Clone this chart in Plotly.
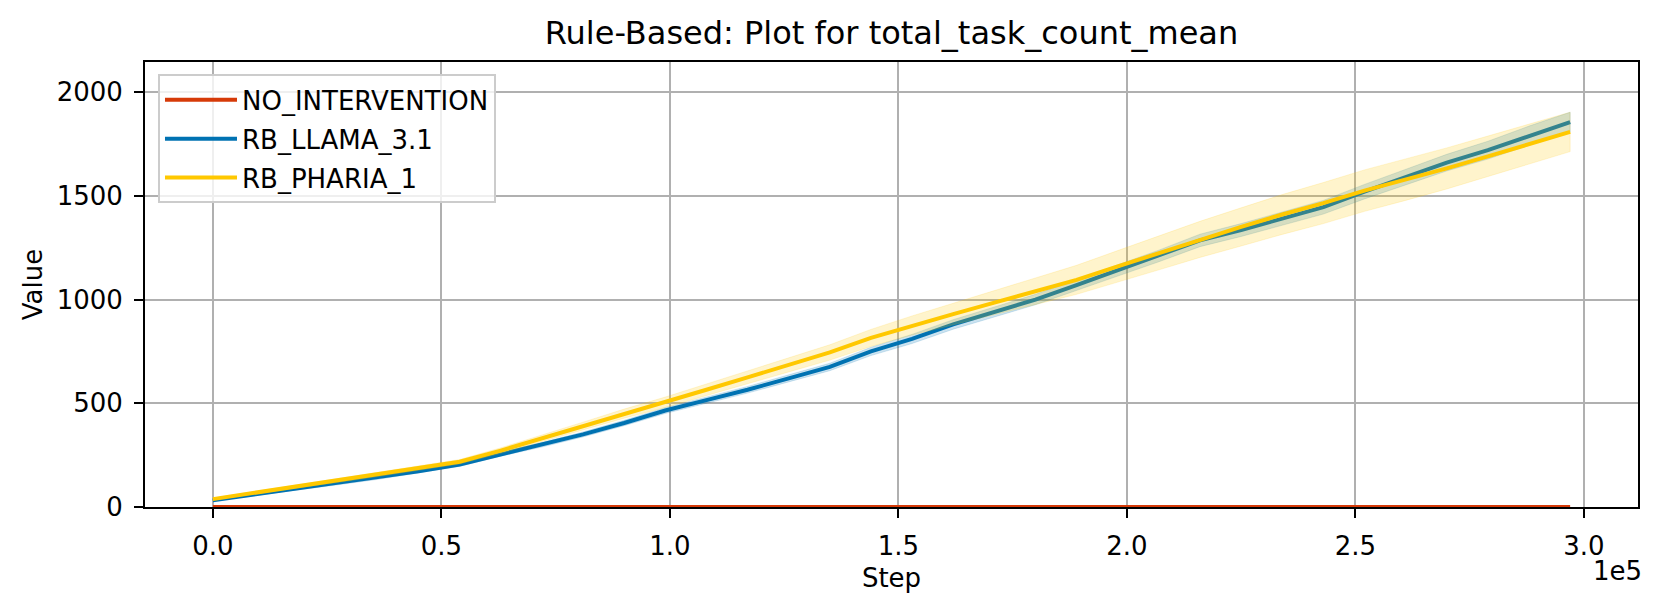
import plotly.graph_objects as go

# Steps logged every 9000 environment steps
steps = [i * 9000 for i in range(34)]

no_intervention = [0] * 34

llama_mean = [32, 60, 88, 112, 140, 172, 205, 255, 300, 350, 405, 465, 515, 565,
              620, 675, 750, 810, 880, 940, 1000, 1070, 1140, 1210, 1285, 1335,
              1390, 1445, 1520, 1590, 1660, 1720, 1790, 1855]
llama_spread = [4, 5, 6, 6, 7, 8, 9, 10, 11, 12, 13, 14, 15, 16, 17, 18, 20, 22,
                23, 24, 25, 26, 27, 28, 30, 31, 32, 33, 35, 38, 40, 43, 46, 48]

pharia_mean = [38, 68, 98, 125, 155, 185, 218, 272, 330, 390, 450, 505, 565, 625,
               685, 745, 815, 875, 930, 985, 1040, 1095, 1160, 1225, 1290, 1350,
               1410, 1465, 1525, 1578, 1632, 1690, 1748, 1808]
pharia_spread = [5, 6, 7, 8, 9, 10, 11, 13, 16, 19, 22, 25, 28, 31, 34, 37, 41,
                 46, 52, 58, 64, 70, 76, 82, 87, 92, 96, 99, 100, 100, 99, 98, 96, 95]

RED = "#d63a08"
BLUE = "#0072b2"
YELLOW = "#ffc800"
FONT = "DejaVu Sans"

# the page body keeps its default 8px margin, so the figure is a bit smaller
WIDTH, HEIGHT = 1643, 591


def band(x, mean, spread, rgba, group):
    upper = [m + s for m, s in zip(mean, spread)]
    lower = [m - s for m, s in zip(mean, spread)]
    return go.Scatter(
        x=x + x[::-1],
        y=upper + lower[::-1],
        fill="toself",
        fillcolor=rgba,
        line={"width": 0.8, "color": rgba},
        hoverinfo="skip",
        legendgroup=group,
        showlegend=False,
    )


fig = go.Figure()
fig.add_trace(go.Scatter(x=steps, y=no_intervention, mode="lines", legendgroup="a",
                         line={"color": RED, "width": 4}, name="NO_INTERVENTION"))
fig.add_trace(band(steps, llama_mean, llama_spread, "rgba(0,114,178,0.2)", "b"))
fig.add_trace(go.Scatter(x=steps, y=llama_mean, mode="lines", legendgroup="b",
                         line={"color": BLUE, "width": 4}, name="RB_LLAMA_3.1"))
fig.add_trace(band(steps, pharia_mean, pharia_spread, "rgba(255,200,0,0.2)", "c"))
fig.add_trace(go.Scatter(x=steps, y=pharia_mean, mode="lines", legendgroup="c",
                         line={"color": YELLOW, "width": 4}, name="RB_PHARIA_1"))

axis_common = dict(
    showline=True,
    linecolor="black",
    linewidth=2,
    mirror=True,
    ticks="outside",
    ticklen=9,
    tickwidth=2,
    tickcolor="black",
    ticklabelstandoff=6,
    showgrid=True,
    gridcolor="#b0b0b0",
    gridwidth=2,
    zeroline=False,
    tickfont={"family": FONT, "size": 26, "color": "black"},
    title_font={"family": FONT, "size": 26, "color": "black"},
)

fig.update_xaxes(
    range=[-14850, 311850],
    tickvals=[0, 50000, 100000, 150000, 200000, 250000, 300000],
    ticktext=["0.0", "0.5", "1.0", "1.5", "2.0", "2.5", "3.0"],
    title_text="Step",
    title_standoff=9,
    **axis_common,
)
fig.update_yaxes(
    range=[0, 2145],
    tickvals=[0, 500, 1000, 1500, 2000],
    title_text="Value",
    title_standoff=7,
    **axis_common,
)

fig.add_annotation(text="1e5", xref="paper", yref="paper", x=1.004, y=-0.1435,
                   xanchor="right", yanchor="middle", showarrow=False,
                   font={"family": FONT, "size": 26, "color": "black"})

fig.update_layout(
    width=WIDTH,
    height=HEIGHT,
    margin={"l": 137, "r": 11, "t": 54, "b": 92},
    plot_bgcolor="white",
    paper_bgcolor="white",
    font={"family": FONT, "size": 26, "color": "black"},
    title={"text": "Rule-Based: Plot for total_task_count_mean", "x": 0.5,
           "xref": "paper", "xanchor": "center", "y": 1 - 25 / HEIGHT,
           "yanchor": "middle", "font": {"family": FONT, "size": 32, "color": "black"}},
    legend={"x": 0.0087, "y": 0.972, "xanchor": "left", "yanchor": "top",
            "bgcolor": "rgba(255,255,255,0.8)", "bordercolor": "#cccccc",
            "borderwidth": 2, "tracegroupgap": 2, "itemwidth": 72,
            "font": {"family": FONT, "size": 26}},
)

fig.write_html("out.html")
